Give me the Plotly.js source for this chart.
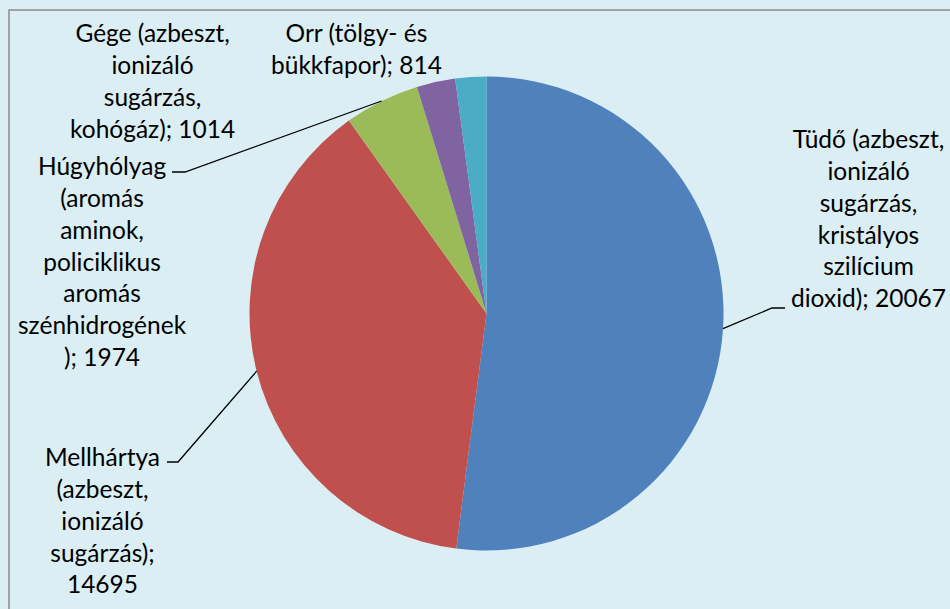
<!DOCTYPE html>
<html>
<head>
<meta charset="utf-8">
<script src="https://cdn.plot.ly/plotly-3.0.1.min.js"></script>
<style>html,body{margin:0;padding:0;background:#DAEEF3;}#chart{width:950px;height:609px;}</style>
</head>
<body>
<div id="chart"></div>
<script>
// ---- data ----
const categories = [
  'Tüdő (azbeszt,<br>ionizáló<br>sugárzás,<br>kristályos<br>szilícium<br>dioxid)',
  'Mellhártya<br>(azbeszt,<br>ionizáló<br>sugárzás)',
  'Húgyhólyag<br>(aromás<br>aminok,<br>policiklikus<br>aromás<br>szénhidrogének<br>)',
  'Gége (azbeszt,<br>ionizáló<br>sugárzás,<br>kohógáz)',
  'Orr (tölgy- és<br>bükkfapor)'
];
const values = [20067, 14695, 1974, 1014, 814];
const valueOnNewLine = [false, true, false, false, false];
const colors = ['#4F81BD', '#C0504D', '#9BBB59', '#8064A2', '#4BACC6'];

// ---- layout constants (pixels) ----
const W = 950, H = 609;
const cx = 486.5, cy = 313.5, R = 237;
// label centers (px)
const labelPos = [[868, 218], [102, 520], [102, 261], [152, 80], [356, 48]];
// leader-line elbow and stub end (px), null = no leader
const leaderElbow = [[772, 308], [178, 462], [185, 172], null, null];
const leaderEnd = [[785, 308], [167, 462], [172, 172], null, null];

const px = x => x / W;
const py = y => 1 - y / H;

const labelTexts = categories.map((c, i) => c + ';' + (valueOnNewLine[i] ? '<br>' : ' ') + values[i]);

const total = values.reduce((a, b) => a + b, 0);
let cum = 0;
const shapes = [];
values.forEach((v, i) => {
  const mid = (cum + v / 2) / total * 2 * Math.PI;
  cum += v;
  if (!leaderElbow[i]) return;
  const ex = cx + R * Math.sin(mid), ey = cy - R * Math.cos(mid);
  const [bx, by] = leaderElbow[i];
  const [sx, sy] = leaderEnd[i];
  shapes.push({
    type: 'path', xref: 'paper', yref: 'paper',
    path: `M ${px(ex)},${py(ey)} L ${px(bx)},${py(by)} L ${px(sx)},${py(sy)}`,
    line: {color: '#000000', width: 1.3}
  });
});
// chart frame
shapes.push({
  type: 'rect', xref: 'paper', yref: 'paper',
  x0: px(9), y0: -0.1, x1: 1.1, y1: py(10),
  line: {color: '#8A8A8A', width: 1.5}, fillcolor: 'rgba(0,0,0,0)', layer: 'below'
});

const annotations = labelTexts.map((t, i) => ({
  xref: 'paper', yref: 'paper', x: px(labelPos[i][0]), y: py(labelPos[i][1]),
  xanchor: 'center', yanchor: 'middle', align: 'center', showarrow: false,
  text: t, font: {family: 'Lato, sans-serif', size: 24.5, color: '#000000'}
}));

const data = [{
  type: 'pie',
  labels: categories,
  values: values,
  sort: false,
  direction: 'clockwise',
  rotation: 0,
  textinfo: 'none',
  hoverinfo: 'label+value',
  marker: {colors: colors, line: {width: 0}},
  domain: {x: [(cx - R) / W, (cx + R) / W], y: [py(cy + R), py(cy - R)]},
  showlegend: false
}];

const layout = {
  width: W, height: H,
  margin: {l: 0, r: 0, t: 0, b: 0},
  paper_bgcolor: '#DAEEF3',
  plot_bgcolor: '#DAEEF3',
  showlegend: false,
  shapes: shapes,
  annotations: annotations
};

Plotly.newPlot('chart', data, layout, {displayModeBar: false, staticPlot: true});
</script>
</body>
</html>
